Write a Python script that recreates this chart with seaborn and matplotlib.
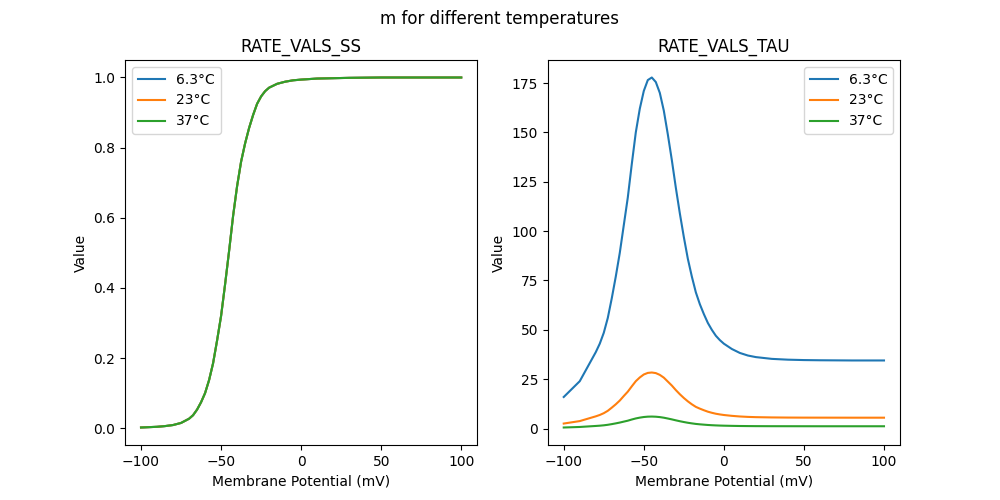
import numpy as np
import pandas as pd
import matplotlib
matplotlib.use("Agg")
import matplotlib.pyplot as plt
import seaborn as sns

temps = ["6.3°C", "23°C", "37°C"]

v_ss = [-100, -90, -85, -80, -75, -70, -67.5, -65, -62.5, -60, -57.5, -55, -52.5, -50,
        -47.5, -45, -42.5, -40, -37.5, -35, -32.5, -30, -27.5, -25, -22.5, -20,
        -15, -10, -5, 0, 10, 20, 30, 50, 75, 100]
ss_vals = [0.002, 0.004, 0.006, 0.009, 0.015, 0.027, 0.037, 0.053, 0.074, 0.100, 0.137,
           0.185, 0.250, 0.320, 0.410, 0.505, 0.605, 0.690, 0.760, 0.812, 0.856,
           0.893, 0.925, 0.946, 0.961, 0.971, 0.982, 0.988, 0.992, 0.994, 0.997,
           0.998, 0.999, 1.0, 1.0, 1.0]

v_tau = [-100, -90, -80, -77.5, -75, -72.5, -70, -67.5, -65, -62.5, -60, -57.5, -55,
         -52.5, -50, -47.5, -45, -42.5, -40, -37.5, -35, -32.5, -30, -27.5, -25,
         -22.5, -20, -17.5, -15, -12.5, -10, -7.5, -5, -2.5, 0, 5, 10, 15, 20,
         30, 40, 50, 60, 80, 100]
tau_63 = [16, 24, 38.7, 43, 48.5, 56, 66, 77, 89, 103, 117, 134, 150,
          162, 171, 176.5, 177.8, 175.5, 170, 161, 149, 136, 122, 109, 97,
          86, 77, 69, 63, 58, 53.5, 50, 47, 44.8, 43, 40.3, 38.3, 37.0, 36.2,
          35.3, 34.9, 34.7, 34.6, 34.5, 34.5]
tau_23 = [2.55, 3.8, 6.2, 6.9, 7.8, 9.0, 10.6, 12.3, 14.2, 16.5, 18.7, 21.4, 24.0,
          25.9, 27.4, 28.2, 28.4, 28.1, 27.2, 25.8, 23.8, 21.8, 19.5, 17.4, 15.5,
          13.8, 12.3, 11.0, 10.1, 9.3, 8.56, 8.0, 7.52, 7.17, 6.88, 6.45, 6.13, 5.92, 5.79,
          5.65, 5.58, 5.55, 5.54, 5.52, 5.52]
tau_37 = [0.55, 0.82, 1.33, 1.47, 1.66, 1.92, 2.26, 2.64, 3.05, 3.53, 4.0, 4.6, 5.14,
          5.55, 5.86, 6.04, 6.09, 6.01, 5.82, 5.51, 5.1, 4.66, 4.18, 3.73, 3.32,
          2.95, 2.64, 2.36, 2.16, 1.99, 1.83, 1.71, 1.61, 1.53, 1.47, 1.38, 1.31, 1.27, 1.24,
          1.21, 1.2, 1.19, 1.18, 1.18, 1.18]

ss_df = pd.DataFrame({
    "V": v_ss * 3,
    "val": ss_vals * 3,
    "temp": sum([[t] * len(v_ss) for t in temps], []),
})
tau_df = pd.DataFrame({
    "V": v_tau * 3,
    "val": tau_63 + tau_23 + tau_37,
    "temp": sum([[t] * len(v_tau) for t in temps], []),
})

palette = ["#1f77b4", "#ff7f0e", "#2ca02c"]

fig, axes = plt.subplots(1, 2, figsize=(10, 5), dpi=100)
sns.lineplot(data=ss_df, x="V", y="val", hue="temp", palette=palette,
             hue_order=temps, ax=axes[0], linewidth=1.5)
sns.lineplot(data=tau_df, x="V", y="val", hue="temp", palette=palette,
             hue_order=temps, ax=axes[1], linewidth=1.5)

axes[0].set_title("RATE_VALS_SS")
axes[1].set_title("RATE_VALS_TAU")
for ax in axes:
    ax.set_xlabel("Membrane Potential (mV)")
    ax.set_ylabel("Value")
axes[0].legend(loc="upper left")
axes[1].legend(loc="upper right")
fig.suptitle("m for different temperatures")
fig.savefig("out.png", dpi=100)
